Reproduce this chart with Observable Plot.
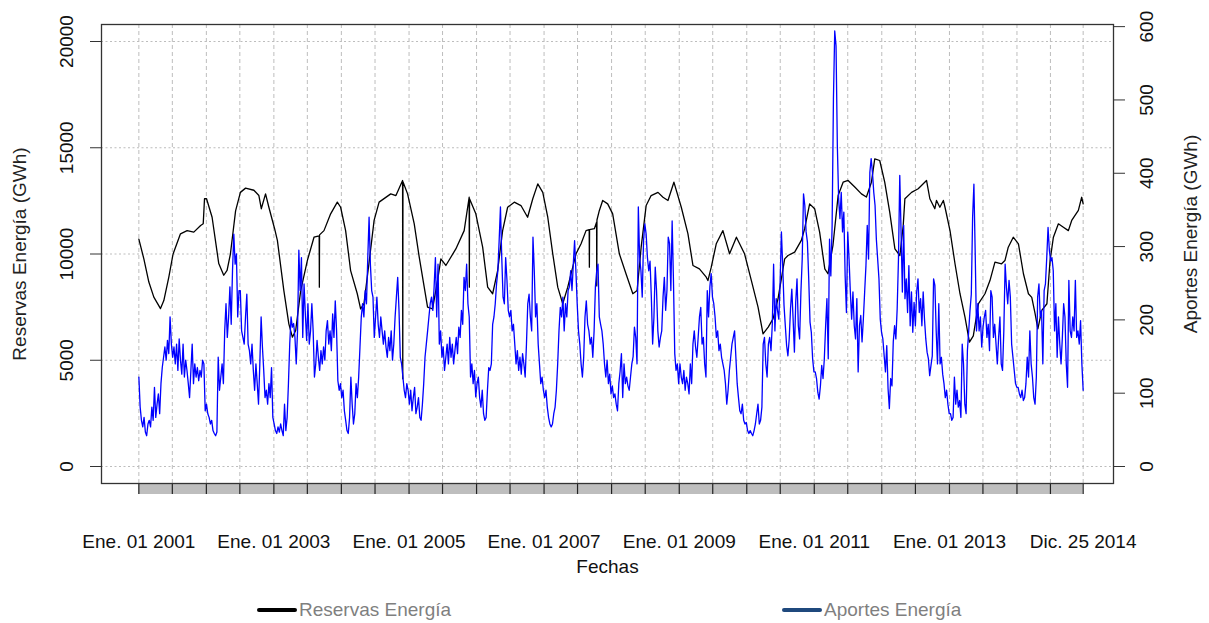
<!DOCTYPE html>
<html>
<head>
<meta charset="utf-8">
<script src="https://cdn.jsdelivr.net/npm/d3@7"></script>
<script src="https://cdn.jsdelivr.net/npm/@observablehq/plot@0.6"></script>
<style>
  html, body { margin: 0; padding: 0; background: #fff; }
  #wrap { position: relative; width: 1209px; height: 623px; overflow: hidden; }
  .leg { position: absolute; top: 597px; height: 26px; display: flex; align-items: center; color: #7f7f7f; }
  .leg .sw { width: 40px; height: 4px; border-radius: 2px; margin-right: 2px; }
</style>
</head>
<body>
<div id="wrap"></div>
<script>
// ---------------- DATA ----------------
const leftTicks = [0, 5000, 10000, 15000, 20000];
const rightTicks = [0, 100, 200, 300, 400, 500, 600];
const xLabelDates = ["2001-01-01","2003-01-01","2005-01-01","2007-01-01","2009-01-01","2011-01-01","2013-01-01","2014-12-25"];
const xLabels = ["Ene. 01 2001","Ene. 01 2003","Ene. 01 2005","Ene. 01 2007","Ene. 01 2009","Ene. 01 2011","Ene. 01 2013","Dic. 25 2014"];
const serieFirst = "2001-01-01";
const serieLast = "2014-12-25";

// Reservas Energía (GWh) — left axis
const reservasFechas = ["2001-01-01","2001-01-28","2001-02-24","2001-03-23","2001-04-28","2001-05-16","2001-06-12","2001-07-05","2001-08-14","2001-09-19","2001-10-25","2001-12-01","2001-12-15","2001-12-22","2002-01-02","2002-02-01","2002-03-09","2002-04-05","2002-04-23","2002-05-11","2002-06-08","2002-07-04","2002-08-01","2002-09-15","2002-10-12","2002-10-25","2002-11-17","2002-12-05","2003-01-05","2003-01-20","2003-02-24","2003-03-23","2003-04-11","2003-04-29","2003-05-26","2003-07-01","2003-08-06","2003-09-03","2003-09-04","2003-09-05","2003-09-29","2003-11-04","2003-12-10","2003-12-28","2004-01-24","2004-02-20","2004-03-27","2004-04-14","2004-05-02","2004-05-29","2004-06-26","2004-07-23","2004-09-24","2004-10-22","2004-11-27","2004-11-28","2004-11-29","2004-12-24","2005-01-29","2005-02-25","2005-03-24","2005-04-11","2005-05-08","2005-06-04","2005-06-22","2005-07-19","2005-09-11","2005-10-26","2005-11-22","2005-11-23","2005-11-24","2005-12-28","2006-02-03","2006-03-02","2006-03-29","2006-04-25","2006-05-22","2006-06-18","2006-07-24","2006-08-29","2006-10-04","2006-11-01","2006-11-28","2006-12-25","2007-01-21","2007-02-17","2007-03-16","2007-04-12","2007-05-09","2007-06-05","2007-06-23","2007-07-20","2007-08-16","2007-09-02","2007-09-03","2007-09-04","2007-09-30","2007-10-12","2007-10-13","2007-10-14","2007-10-27","2007-11-14","2007-12-11","2008-01-07","2008-02-12","2008-03-19","2008-04-25","2008-05-18","2008-06-09","2008-07-06","2008-08-02","2008-09-08","2008-10-05","2008-11-01","2008-12-03","2009-01-12","2009-02-17","2009-03-16","2009-04-20","2009-05-27","2009-06-05","2009-06-23","2009-07-20","2009-08-25","2009-09-30","2009-11-06","2009-12-20","2010-01-26","2010-03-03","2010-03-30","2010-04-27","2010-05-23","2010-06-19","2010-07-25","2010-08-12","2010-09-17","2010-10-23","2010-11-10","2010-12-07","2011-01-03","2011-01-30","2011-02-27","2011-03-16","2011-04-12","2011-05-10","2011-06-06","2011-07-03","2011-08-08","2011-09-13","2011-10-10","2011-11-06","2011-11-24","2011-12-21","2012-01-17","2012-02-13","2012-03-12","2012-04-08","2012-04-26","2012-05-05","2012-06-10","2012-07-16","2012-08-30","2012-09-17","2012-10-14","2012-10-23","2012-11-10","2012-11-29","2012-12-08","2013-01-04","2013-01-31","2013-02-27","2013-03-26","2013-04-19","2013-05-10","2013-06-07","2013-07-12","2013-08-08","2013-09-04","2013-10-10","2013-10-28","2013-11-15","2013-12-12","2014-01-09","2014-02-05","2014-03-04","2014-03-22","2014-04-09","2014-04-24","2014-05-15","2014-06-12","2014-06-29","2014-07-17","2014-08-13","2014-09-09","2014-10-06","2014-10-24","2014-11-29","2014-12-17","2014-12-25"];
const reservasGWh = [10700,9770,8680,7970,7430,7810,8910,10000,10950,11100,11030,11340,11420,12600,12600,11730,9550,9000,9230,10000,12030,12900,13100,13000,12750,12130,12830,12200,11190,10640,8280,6715,6085,6400,8280,9690,10790,10850,8440,10900,11100,11890,12440,12200,11100,9220,8130,7420,7650,9540,11580,12440,12830,12750,13460,4130,13400,12830,11420,9850,8440,7500,7420,8750,9770,9460,10240,11100,12670,8440,12600,11890,10320,8440,8130,9220,11100,12200,12440,12280,11730,12600,13300,12900,11730,10010,8440,7660,8440,9380,10010,10480,11100,11150,9380,11150,11190,11500,8500,11600,12050,12520,12360,11890,10010,9070,8130,8280,10320,12280,12750,12900,12670,12520,13380,12200,10950,9460,9300,8910,8750,9380,10480,11100,10010,10790,10010,8750,7500,6245,6560,6950,7890,9770,9930,10085,10640,11190,12360,12130,11030,9300,9070,10400,12750,13380,13460,13150,12830,12680,13380,14480,14400,13380,11970,10240,9930,11340,12600,12900,13070,13460,12600,12130,12520,12200,12520,12200,11100,9540,8130,7030,5850,6150,7660,8130,8750,9620,9540,9690,10320,10790,10480,9070,8130,7960,7190,6480,7350,7660,9690,10790,11420,11260,11100,11580,12050,12670,12360];

// Aportes Energía (GWh) — right axis, evenly spaced readings (about weekly), one row per half-year
const aportesGWh = [
122,81,63,54,67,47,42,58,63,54,81,63,108,67,85,99,72,113,135,149,163,145,172,154,204,167,
149,163,140,167,131,174,145,126,167,122,145,131,113,94,131,167,113,140,122,135,117,131,122,145,140,76,
85,72,67,58,63,49,45,42,47,149,104,122,140,113,185,222,176,204,245,194,267,317,276,290,204,240,
240,185,176,167,204,235,167,158,140,167,131,104,140,113,85,140,204,163,131,94,104,85,113,94,135,67,
58,49,45,54,47,58,49,42,85,49,67,113,167,204,190,195,176,140,185,295,240,285,176,249,208,172,
222,167,185,222,185,122,140,172,149,131,158,140,163,145,185,199,167,185,158,208,176,226,185,117,104,113,
94,104,76,63,49,45,67,122,85,58,72,113,94,122,163,204,222,204,240,222,285,340,276,240,231,176,
204,231,194,176,204,185,167,185,163,149,176,158,185,145,167,204,231,258,213,149,140,122,104,94,113,104,
85,104,76,94,108,72,81,94,67,63,85,113,149,167,185,204,222,231,213,245,285,204,276,167,185,149,
163,131,149,167,140,176,149,167,140,158,176,154,190,176,213,194,258,240,276,222,204,122,140,113,131,95,
113,122,94,81,104,72,63,67,104,135,131,140,194,204,222,249,267,308,354,285,231,222,285,254,213,204,
213,185,194,167,140,158,131,149,126,154,140,122,167,222,235,204,185,313,267,204,222,167,140,113,122,104,
94,104,81,67,58,54,58,72,81,104,140,185,217,204,231,185,222,204,240,245,267,240,276,308,267,222,
185,167,140,122,149,204,226,194,185,167,176,149,185,245,267,276,204,194,185,167,140,122,145,113,126,99,
110,94,99,85,76,113,130,154,94,140,113,122,110,104,122,140,150,190,176,140,354,285,267,231,308,331,
317,285,267,280,231,167,204,272,240,185,163,176,185,231,258,213,240,313,304,240,335,254,154,131,140,113,
140,122,113,131,104,122,113,99,140,113,167,185,163,149,176,204,217,167,176,140,122,240,204,245,263,231,
222,204,176,185,158,167,149,140,131,113,85,104,131,149,167,176,185,149,113,94,76,72,85,63,58,60,
49,45,49,45,42,49,58,72,85,58,63,81,167,176,140,122,167,176,158,194,276,185,229,213,201,251,
320,274,220,192,165,151,174,215,242,201,156,224,256,192,174,238,283,372,356,320,306,256,197,183,147,129,
129,120,101,92,110,138,120,147,192,229,147,310,260,329,501,594,574,438,365,338,374,320,347,260,210,320,
283,238,201,238,192,174,229,129,192,206,170,201,238,274,329,283,401,420,401,374,356,310,283,256,201,183,
174,151,129,165,106,79,120,110,170,192,174,215,283,397,320,238,329,229,256,210,274,192,238,183,224,192,
238,256,210,229,192,238,201,174,156,147,124,138,151,256,247,185,140,222,140,149,126,113,94,104,85,72,
72,63,67,122,85,104,81,90,67,167,140,85,72,158,185,213,235,340,385,290,185,222,185,204,163,190,
204,213,176,194,158,240,231,176,194,167,140,176,204,140,131,185,276,245,222,254,231,167,149,131,113,108,
108,99,94,104,90,94,113,149,122,185,140,122,94,85,122,231,249,204,213,140,240,249,285,326,295,280,
285,267,185,222,149,204,167,140,176,222,204,140,108,254,185,176,204,185,254,176,185,167,199,140,104
];

// ---------------- BUILD ----------------
const FONT = '"Liberation Sans", Arial, sans-serif';
const FS = 19;

const parse = d3.utcParse("%Y-%m-%d");
const t0 = parse(serieFirst), t1 = parse(serieLast);
const reservas = reservasFechas.map((d, i) => ({date: parse(d), value: reservasGWh[i]}));
const step = (t1 - t0) / (aportesGWh.length - 1);
const aportes = aportesGWh.map((v, i) => ({date: new Date(+t0 + i * step), value: v}));

const K = 34.5; // right-axis unit expressed in left-axis units
const tickDates = d3.utcMonth.every(6).range(t0, t1).concat([t1]);
const xDomain = [d3.utcDay.offset(t0, -202), d3.utcDay.offset(t1, 164)];
const labelDates = xLabelDates.map(parse);
const centered = {textAnchor: "middle", lineAnchor: "middle"};

const chart = Plot.plot({
  width: 1209, height: 585,
  marginLeft: 101, marginRight: 96, marginTop: 24, marginBottom: 102,
  x: {type: "utc", domain: xDomain, axis: null},
  y: {domain: [-800, 20800], axis: null},
  style: {fontFamily: FONT, fontSize: FS + "px", background: "#fff", overflow: "visible", color: "#111"},
  marks: [
    Plot.gridY(leftTicks, {stroke: "#bdbdbd", strokeOpacity: 1, strokeDasharray: "2,2.5"}),
    Plot.gridX(tickDates, {stroke: "#bdbdbd", strokeOpacity: 1, strokeDasharray: "4,3"}),
    Plot.rect([{a: t0, b: t1}], {x1: "a", x2: "b", fill: "#bebebe", insetTop: 459, insetBottom: -11}),
    Plot.tickX(tickDates, {x: d => d, stroke: "#222", strokeWidth: 1.2, insetTop: 459, insetBottom: -11}),
    Plot.line(reservas, {x: "date", y: "value", stroke: "#000", strokeWidth: 1.3}),
    Plot.line(aportes, {x: "date", y: d => d.value * K, stroke: "#0000ff", strokeWidth: 1.3}),
    Plot.frame({stroke: "#333", strokeWidth: 1.3}),
    Plot.axisY(leftTicks, {anchor: "left", tickSize: 11, tickFormat: () => "", label: null, stroke: "#333"}),
    Plot.axisY(rightTicks.map(v => v * K), {anchor: "right", tickSize: 11, tickFormat: () => "", label: null, stroke: "#333"}),
    Plot.text(leftTicks, {y: d => d, text: d => String(d), frameAnchor: "left", dx: -35, rotate: -90, fill: "#111", ...centered}),
    Plot.text(rightTicks, {y: d => d * K, text: d => String(d), frameAnchor: "right", dx: 33, rotate: -90, fill: "#111", ...centered}),
    Plot.text(labelDates, {x: d => d, text: (d, i) => xLabels[i], frameAnchor: "bottom", dy: 58, fill: "#111", ...centered}),
    Plot.text(["Fechas"], {text: d => d, frameAnchor: "bottom", dy: 83, fill: "#111", ...centered}),
    Plot.text(["Reservas Energía (GWh)"], {text: d => d, frameAnchor: "left", dx: -82, rotate: -90, fill: "#222", ...centered}),
    Plot.text(["Aportes Energía (GWh)"], {text: d => d, frameAnchor: "right", dx: 77, dy: -20, rotate: -90, fill: "#222", ...centered})
  ]
});
const wrap = document.getElementById("wrap");
wrap.appendChild(chart);

// legend below the chart
const legendItems = [
  {label: "Reservas Energía", color: "#000000", left: 257},
  {label: "Aportes Energía", color: "#1f497d", left: 782}
];
for (const it of legendItems) {
  const div = document.createElement("div");
  div.className = "leg";
  div.style.left = it.left + "px";
  div.style.fontFamily = FONT;
  div.style.fontSize = FS + "px";
  div.innerHTML = `<span class="sw" style="background:${it.color}"></span><span>${it.label}</span>`;
  wrap.appendChild(div);
}
</script>
</body>
</html>
